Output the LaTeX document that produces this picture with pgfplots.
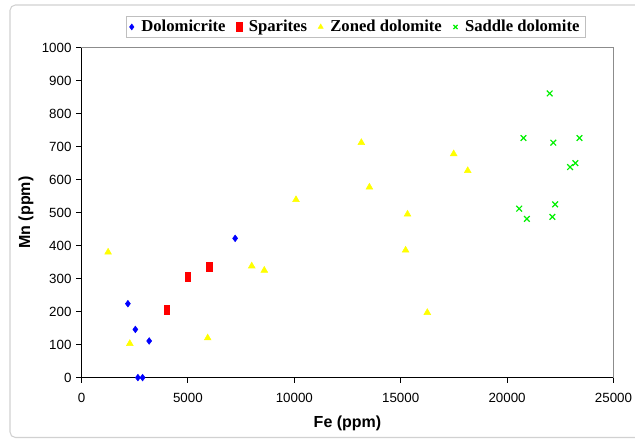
\documentclass[border=0pt]{standalone}
\usepackage{fontspec}
\setmainfont{Liberation Sans}
\newfontfamily\legfont{Liberation Serif}
\usepackage{pgfplots}
\pgfplotsset{compat=1.18}
\definecolor{dblue}{RGB}{0,0,255}
\definecolor{dred}{RGB}{255,0,0}
\definecolor{dyellow}{RGB}{255,255,0}
\definecolor{dgreen}{RGB}{0,240,0}
\begin{document}
\begin{tikzpicture}
\useasboundingbox (-61.125pt,-46.05pt) rectangle (415.125pt,283.2pt);
% light frame of the chart area
\draw[black!18, line width=0.8pt, rounded corners=4pt]
  (430pt,279.45pt) -- (-53.6pt,279.45pt) -- (-53.6pt,-44.9pt) -- (430pt,-44.9pt);
\begin{axis}[
    at={(0pt,0pt)}, anchor=south west,
    scale only axis,
    width=399pt,
    height=247.5pt,
    xmin=0, xmax=25000,
    ymin=0, ymax=1000,
    xtick={0,5000,...,25000},
    ytick={0,100,...,1000},
    scaled x ticks=false,
    axis x line*=bottom,
    axis y line*=left,
    axis line style={-, line width=1.2pt, black},
    tick align=outside,
    major tick length=4pt,
    tick style={black, line width=0.8pt},
    clip=false,
    /pgf/number format/assume math mode=true,
    /pgf/number format/1000 sep={},
    tick label style={font=\fontsize{10}{12}\selectfont},
    xticklabel style={yshift=-4.5pt},
    xlabel={Fe (ppm)},
    ylabel={Mn (ppm)},
    label style={font=\bfseries\fontsize{12}{14}\selectfont},
    xlabel style={at={(axis description cs:0.5,-0.1386)}, anchor=center},
    ylabel style={at={(axis description cs:-0.1043,0.5)}, anchor=center},
    legend style={
        at={(axis description cs:0.515,1)}, anchor=south, yshift=7.2pt,
        draw=black!25, fill=white,
        font=\legfont\bfseries\fontsize{12.5}{14}\selectfont,
        legend columns=-1,
        inner xsep=2pt, inner ysep=1pt,
        /tikz/every even column/.append style={column sep=6pt}
    },
    legend image code/.code={
        \path (-2pt,0pt) (5pt,0pt);
        \draw[mark size=2.2pt] plot coordinates {(0pt,0pt)};
    },
]
\draw[black!45, line width=0.6pt] (rel axis cs:0,1) -- (rel axis cs:1,1) -- (rel axis cs:1,0);

\addplot[only marks, mark=diamond*, mark size=2.5pt, color=dblue] coordinates {
    (2180,224) (2530,146) (3180,111) (2650,0) (2870,0) (7220,422)
};
\addlegendentry{Dolomicrite}

\addplot[only marks, mark=square*, mark size=2.1pt, color=dred, mark options={yscale=1.5}] coordinates {
    (4000,205) (5000,305) (6000,336)
};
\addlegendentry{Sparites}

\addplot[only marks, mark=triangle*, mark size=2.9pt, color=dyellow] coordinates {
    (1250,380) (2270,103) (5930,120) (8000,338) (8590,325) (10080,539)
    (13150,712) (13530,577) (15230,386) (15320,495) (16250,197)
    (17490,678) (18150,627)
};
\addlegendentry{Zoned dolomite}

\addplot[only marks, mark=x, mark size=3pt, color=dgreen, mark options={line width=0.9pt}] coordinates {
    (22000,861) (20770,726) (22170,712) (23400,726) (22960,638)
    (23210,650) (20570,512) (22260,525) (20930,481) (22130,487)
};
\addlegendentry{Saddle dolomite}
\end{axis}
\end{tikzpicture}
\end{document}
